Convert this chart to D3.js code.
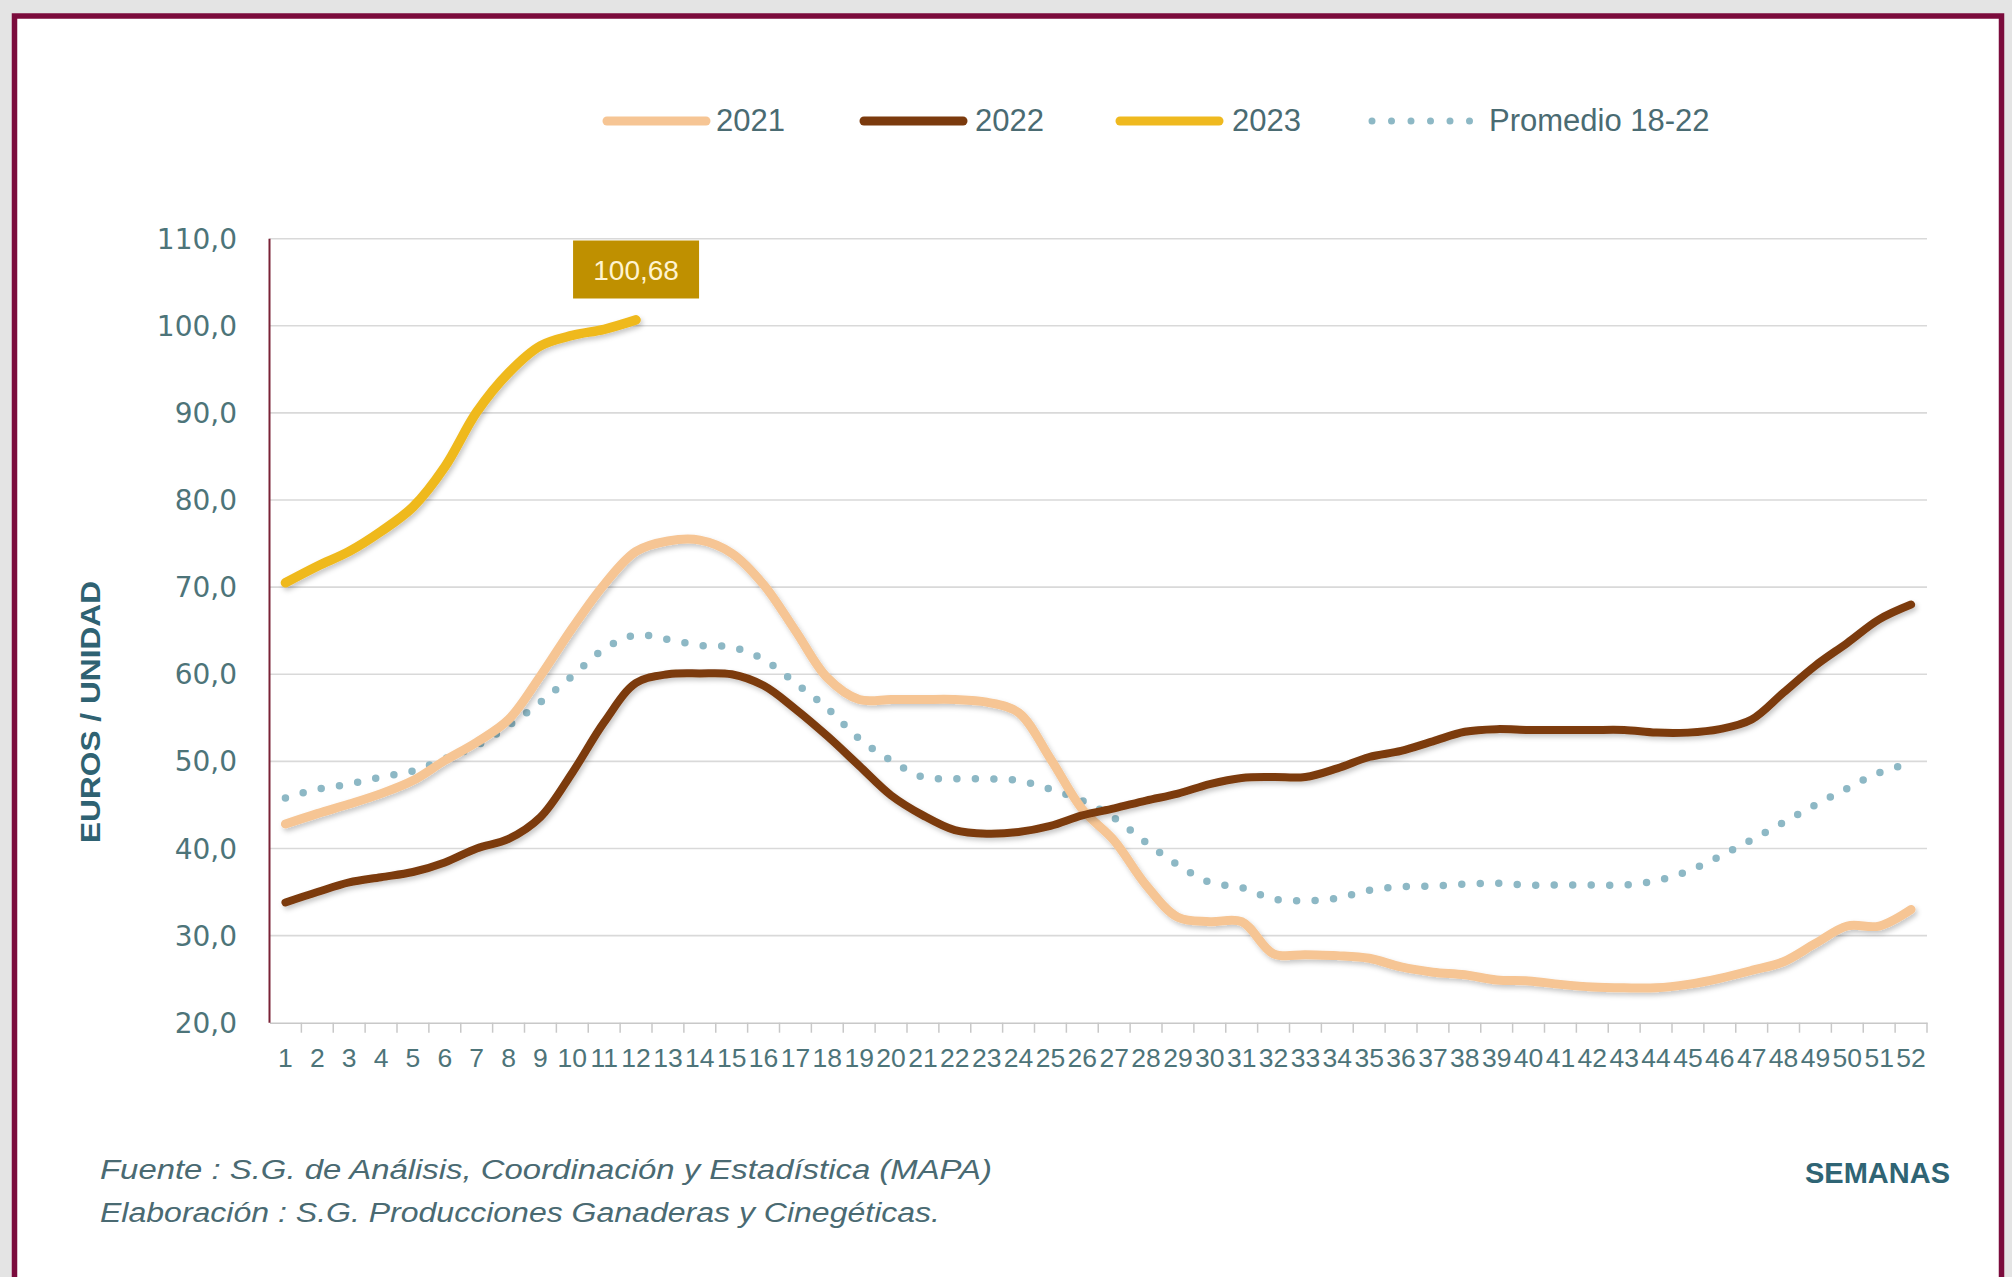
<!DOCTYPE html>
<html><head><meta charset="utf-8">
<script src="https://cdn.jsdelivr.net/npm/d3@7"></script>
<style>
html,body{margin:0;padding:0;background:#e4e4e4;}
svg{display:block;}
</style></head>
<body>
<script>
const weeks = [1,2,3,4,5,6,7,8,9,10,11,12,13,14,15,16,17,18,19,20,21,22,23,24,25,26,27,28,29,30,31,32,33,34,35,36,37,38,39,40,41,42,43,44,45,46,47,48,49,50,51,52];
const v2021 = [42.8,44.0,45.1,46.3,47.8,50.1,52.2,54.8,59.8,65.3,70.3,74.1,75.3,75.4,73.9,70.3,65.0,59.6,57.1,57.1,57.1,57.1,56.8,55.6,50.3,44.5,40.9,35.8,32.1,31.6,31.6,27.9,27.8,27.7,27.4,26.4,25.8,25.5,24.9,24.8,24.4,24.1,24.0,24.0,24.4,25.1,26.0,27.0,29.1,31.1,31.1,33.0];
const v2022 = [33.8,35.0,36.1,36.7,37.3,38.4,40.0,41.1,43.6,48.7,54.5,59.0,60.0,60.1,60.0,58.7,56.0,52.9,49.5,46.1,43.8,42.1,41.7,41.9,42.6,43.8,44.6,45.5,46.3,47.4,48.1,48.2,48.2,49.2,50.5,51.2,52.3,53.4,53.7,53.6,53.6,53.6,53.6,53.3,53.3,53.7,54.8,57.9,61.0,63.6,66.3,68.0];
const v2023 = [70.5,72.4,74.1,76.4,79.2,83.8,90.1,94.6,97.7,98.9,99.6,100.68];
const vPromedio = [45.8,46.8,47.4,48.2,48.9,50.3,51.8,54.1,56.8,59.8,62.9,64.5,64.0,63.3,63.1,61.7,59.0,56.1,52.6,50.1,48.2,48.0,48.0,47.8,46.8,45.5,43.5,40.7,38.1,36.1,35.5,34.2,34.0,34.3,35.2,35.6,35.7,35.9,36.0,35.8,35.8,35.8,35.8,36.3,37.4,39.1,41.0,43.0,45.0,46.9,48.7,49.8];
const yTicks = [20,30,40,50,60,70,80,90,100,110];
const yTickLabels = ["20,0","30,0","40,0","50,0","60,0","70,0","80,0","90,0","100,0","110,0"];
const seriesNames = ["2021","2022","2023","Promedio 18-22"];
const lastLabel = "100,68";

const W = 2012, H = 1277;
const svg = d3.select("body").append("svg").attr("width", W).attr("height", H);

// frame
svg.append("rect").attr("x",14.5).attr("y",16).attr("width",1987).attr("height",1300)
  .attr("fill","#ffffff").attr("stroke","#7b0b3c").attr("stroke-width",5.5);

const defs = svg.append("defs");
const f = defs.append("filter").attr("id","sh").attr("x","-5%").attr("y","-5%").attr("width","110%").attr("height","120%");
f.append("feDropShadow").attr("dx",2).attr("dy",3).attr("stdDeviation",2.5).attr("flood-color","#000").attr("flood-opacity",0.22);

const x = d3.scaleBand().domain(weeks).range([269.5, 1927]);
const y = d3.scaleLinear().domain([20,110]).range([1022.7, 238.7]);
const cx = w => x(w) + x.bandwidth()/2;

const tickColor = "#4d7479";

// gridlines
svg.append("g").selectAll("line").data(yTicks.slice(1)).join("line")
  .attr("x1",269.5).attr("x2",1927).attr("y1",d=>y(d)).attr("y2",d=>y(d))
  .attr("stroke","#d9d9d9").attr("stroke-width",1.6);

// y tick labels
svg.append("g").selectAll("text").data(yTicks).join("text")
  .attr("x",237).attr("y",d=>y(d)).attr("dy","0.36em").attr("text-anchor","end")
  .attr("font-family","DejaVu Sans").attr("font-size",28).attr("fill",tickColor)
  .text((d,i)=>yTickLabels[i]);

// x axis
const xAxis = d3.axisBottom(x).tickSize(0).tickSizeOuter(0);
const gx = svg.append("g").attr("transform","translate(0,1022.7)").call(xAxis);
gx.select(".domain").attr("stroke","#c8c8c8").attr("stroke-width",1.6);
gx.selectAll(".tick text").attr("font-family","Liberation Sans").attr("font-size",26.5)
  .attr("fill",tickColor).attr("dy","0").attr("y",44);
// tick marks at band boundaries
svg.append("g").selectAll("line").data(weeks).join("line")
  .attr("x1",d=>x(d)+x.bandwidth()).attr("x2",d=>x(d)+x.bandwidth())
  .attr("y1",1022.7).attr("y2",1032.7).attr("stroke","#c8c8c8").attr("stroke-width",1.5);

// y axis line
svg.append("line").attr("x1",269.5).attr("x2",269.5).attr("y1",238.7).attr("y2",1022.7)
  .attr("stroke","#7a2236").attr("stroke-width",2);

const line = d3.line().x((d,i)=>cx(weeks[i])).y(d=>y(d)).curve(d3.curveCatmullRom.alpha(0.5));

const gL = svg.append("g");
gL.append("path").attr("d",line(vPromedio)).attr("fill","none").attr("stroke","#8db8c5")
  .attr("stroke-width",7.5).attr("stroke-linecap","round").attr("stroke-dasharray","0 18.5");
gL.append("path").attr("d",line(v2021)).attr("fill","none").attr("stroke","#f6c594")
  .attr("stroke-width",9).attr("stroke-linejoin","round").attr("stroke-linecap","round").attr("filter","url(#sh)");
gL.append("path").attr("d",line(v2022)).attr("fill","none").attr("stroke","#7b3a0d")
  .attr("stroke-width",8).attr("stroke-linejoin","round").attr("stroke-linecap","round").attr("filter","url(#sh)");
gL.append("path").attr("d",line(v2023)).attr("fill","none").attr("stroke","#efb91f")
  .attr("stroke-width",9.5).attr("stroke-linejoin","round").attr("stroke-linecap","round").attr("filter","url(#sh)");

// data label
const lx = cx(weeks[v2023.length-1]);
svg.append("rect").attr("x",lx-63).attr("y",240.5).attr("width",126).attr("height",58).attr("fill","#bf9000");
svg.append("text").attr("x",lx).attr("y",280).attr("text-anchor","middle")
  .attr("font-family","Liberation Sans").attr("font-size",28).attr("fill","#fff4d0").text(lastLabel);

// legend
const legColors = ["#f6c594","#7b3a0d","#efb91f","#8db8c5"];
const legLineX = [603, 860, 1116, 1372];
const legTextX = [716, 975, 1232, 1489];
const leg = svg.append("g");
seriesNames.forEach((n,i)=>{
  const l = leg.append("line").attr("x1",legLineX[i]+4).attr("x2",legLineX[i]+103).attr("y1",121).attr("y2",121)
    .attr("stroke",legColors[i]).attr("stroke-linecap","round");
  if(i===3){ l.attr("stroke-width",7).attr("stroke-dasharray","0 19.5").attr("x1",legLineX[i]).attr("x2",legLineX[i]+100); }
  else l.attr("stroke-width",9);
  leg.append("text").attr("x",legTextX[i]).attr("y",131).attr("font-family","Liberation Sans")
    .attr("font-size",31).attr("fill","#4a6b72").text(n);
});

// axis titles
svg.append("text").attr("transform","translate(100,712) rotate(-90)").attr("text-anchor","middle")
  .attr("font-family","Liberation Sans").attr("font-weight","bold").attr("font-size",28)
  .attr("textLength",262).attr("lengthAdjust","spacingAndGlyphs")
  .attr("fill","#2f6272").text("EUROS / UNIDAD");
svg.append("text").attr("x",1950).attr("y",1183).attr("text-anchor","end")
  .attr("font-family","Liberation Sans").attr("font-weight","bold").attr("font-size",29)
  .attr("fill","#2f6474").text("SEMANAS");

// footer
svg.append("text").attr("x",100).attr("y",1179).attr("font-family","Liberation Sans").attr("font-style","italic")
  .attr("font-size",27).attr("fill","#4a6a72").attr("textLength",892).attr("lengthAdjust","spacingAndGlyphs")
  .text("Fuente :  S.G. de Análisis, Coordinación y Estadística (MAPA)");
svg.append("text").attr("x",100).attr("y",1222).attr("font-family","Liberation Sans").attr("font-style","italic")
  .attr("font-size",27).attr("fill","#4a6a72").attr("textLength",840).attr("lengthAdjust","spacingAndGlyphs")
  .text("Elaboración : S.G. Producciones Ganaderas y Cinegéticas.");
</script>
</body></html>
